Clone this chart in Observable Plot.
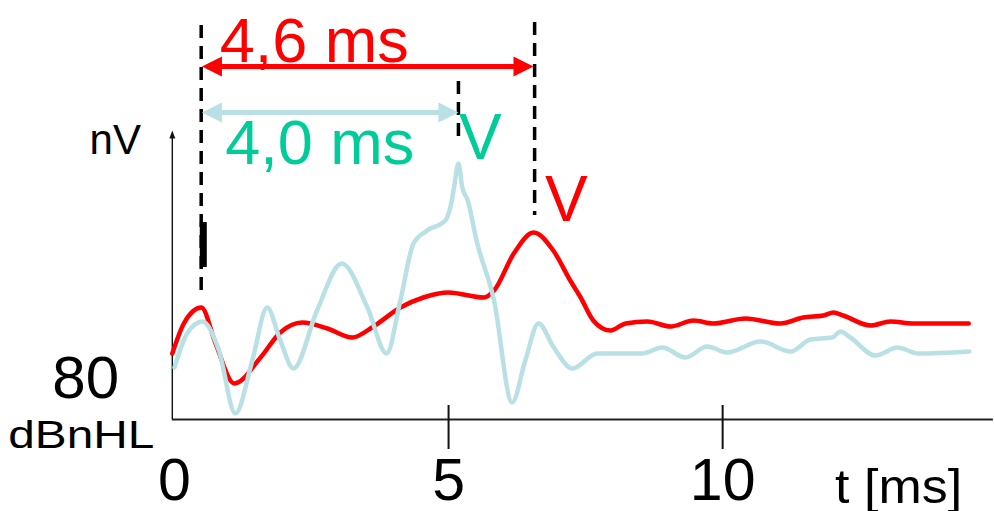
<!DOCTYPE html>
<html><head><meta charset="utf-8">
<script src="https://cdn.jsdelivr.net/npm/d3@7"></script>
<script src="https://cdn.jsdelivr.net/npm/@observablehq/plot@0.6"></script>
<style>html,body{margin:0;padding:0;background:#fff;overflow:hidden}</style>
</head><body><div id="chart"></div>
<script>
// ABR waveforms at 80 dBnHL (time in ms, amplitude in arbitrary nV units)
const redTime = [-0.04,0.17,0.49,0.75,1.09,1.57,1.93,2.33,2.79,3.24,3.63,4.12,4.54,5.00,5.64,5.83,6.19,6.55,6.91,7.22,7.41,7.64,7.95,8.23,8.63,9.05,9.47,9.83,10.42,11.05,11.47,11.84,12.02,12.20,12.70,13.06,13.48,14.49];
const redNV   = [6.6,9.6,11.2,7.6,3.6,6.2,8.7,9.7,9.1,8.2,9.3,11.2,12.2,12.7,12.2,12.9,16.6,18.7,16.9,13.9,12.2,9.9,8.9,9.6,9.8,9.3,9.9,9.6,10.1,9.6,10.2,10.4,10.7,10.4,9.4,9.8,9.6,9.6];
const cyanTime = [0.00,0.23,0.51,0.81,1.11,1.42,1.69,1.93,2.17,2.60,3.05,3.52,3.87,4.12,4.36,4.61,4.94,5.04,5.10,5.18,5.25,5.35,5.51,5.83,6.16,6.40,6.64,6.92,7.26,7.71,8.53,8.90,9.32,9.72,10.08,10.69,11.24,11.60,12.00,12.15,12.33,12.79,13.19,13.57,14.50];
const cyanNV   = [5.2,8.6,9.8,6.9,0.6,5.9,11.2,7.9,5.1,10.9,15.6,11.2,6.6,11.9,17.6,18.9,19.9,21.4,23.2,25.6,23.2,21.9,17.9,11.9,1.7,5.9,9.6,7.2,5.1,6.6,6.6,7.2,6.2,7.3,6.7,7.8,6.8,8.0,8.2,8.8,8.2,6.4,7.2,6.6,6.8];

const xTickValues = [5, 10];
const xTickLabels = [0, 5, 10];

// latency markers (ms) and interval arrows
const onset = 0.50;           // wave I reference
const peakVCyan = 5.18;       // wave V, green/cyan trace
const peakVRed = 6.57;        // wave V, red trace
const intervals = [
  {label: "4,6 ms", from: onset, to: 6.55, y: 35.3, color: "#ff0000", labelX: 2.55, labelY: 35.8},
  {label: "4,0 ms", from: onset, to: peakVCyan, y: 30.7, color: "#b9e0e4", text: "#00cc99", labelX: 2.65, labelY: 25.6}
];
const dashes = [
  {x: 0.487, y1: 12.7, y2: 39.4},
  {x: peakVRed, y1: 20.4, y2: 39.7},
  {x: peakVCyan, y1: 27.7, y2: 33.8}
];
const peakLabels = [
  {text: "V", x: 5.58, y: 26.1, color: "#00cc99"},
  {text: "V", x: 7.15, y: 19.9, color: "#ff0000"}
];
const sideLabels = [
  {text: "nV", x: -1.08, y: 26.6, size: 42},
  {text: "80", x: -1.62, y: 2.2, size: 60},
  {text: "dBnHL", x: -1.70, y: -2.8, size: 39},
  {text: "t [ms]", x: 13.21, y: -8.3, size: 48}
];

const red = redTime.map((t, i) => ({t, v: redNV[i]}));
const cyan = cyanTime.map((t, i) => ({t, v: cyanNV[i]}));

function head(dir, L, H) {
  return {draw(ctx) {
    ctx.moveTo(0, 0);
    if (dir === "left") { ctx.lineTo(L, -H); ctx.lineTo(L, H); }
    else if (dir === "right") { ctx.lineTo(-L, -H); ctx.lineTo(-L, H); }
    else { ctx.lineTo(-H, L); ctx.lineTo(H, L); }
    ctx.closePath();
  }};
}

const font = "'Liberation Sans', Arial, Helvetica, sans-serif";
const marks = [
  // axes
  Plot.ruleY([0], {x1: -0.04, x2: 14.94, stroke: "#222", strokeWidth: 2}),
  Plot.ruleX([-0.04], {y1: 0, y2: 28.2, stroke: "#111", strokeWidth: 1.4}),
  Plot.dot([{x: -0.04, y: 28.9}], {x: "x", y: "y", r: 3, symbol: head("up", 8, 3), fill: "#111", stroke: "none"}),
  Plot.ruleX(xTickValues, {y1: -3.0, y2: 1.4, stroke: "#111", strokeWidth: 2}),
  Plot.text(xTickLabels, {x: d => d, y: 0, dy: 80, text: d => String(d), fontSize: 59, lineAnchor: "bottom", fill: "#000", fontFamily: font}),
  // dashed latency markers
  Plot.ruleX(dashes, {x: "x", y1: "y2", y2: "y1", stroke: "#000", strokeWidth: 3.5, strokeDasharray: "13,8"}),
  Plot.ruleX([{x: 0.525, y1: 15.2, y2: 19.7}], {x: "x", y1: "y1", y2: "y2", stroke: "#000", strokeWidth: 7}),
  // waveforms
  Plot.line(red, {x: "t", y: "v", stroke: "#ff0000", strokeWidth: 4.5, curve: "monotone-x"}),
  Plot.line(cyan, {x: "t", y: "v", stroke: "#b9e0e4", strokeWidth: 4.5, curve: "monotone-x"}),
  // interval arrows
  Plot.ruleY(intervals, {y: "y", x1: "from", x2: "to", stroke: "color", strokeWidth: 5, insetLeft: 12, insetRight: 12}),
  Plot.dot(intervals, {x: "from", y: "y", r: 5, symbol: head("left", 20, 10), fill: "color", stroke: "none"}),
  Plot.dot(intervals, {x: "to", y: "y", r: 5, symbol: head("right", 20, 10), fill: "color", stroke: "none"}),
  Plot.text(intervals, {x: "labelX", y: "labelY", text: "label", fill: d => d.text || d.color, fontSize: 63, lineAnchor: "bottom", fontFamily: font}),
  Plot.text(peakLabels, {x: "x", y: "y", text: "text", fill: "color", fontSize: 64, lineAnchor: "bottom", fontFamily: font}),
  Plot.text(sideLabels, {x: "x", y: "y", text: "text", fontSize: "size", lineAnchor: "bottom", fill: "#000", fontFamily: font})
];

const chart = Plot.plot({
  width: 994, height: 511,
  marginLeft: 174, marginRight: 0, marginTop: 19, marginBottom: 92,
  x: {domain: [0, 14.96], axis: null},
  y: {domain: [0, 40], axis: null},
  color: {type: "identity"},
  style: {fontFamily: font, background: "#fff", overflow: "visible"},
  marks
});
document.getElementById("chart").appendChild(chart);

// stretch a few labels to match the original's widths
const widths = {"dBnHL": 146, "t [ms]": 127};
chart.querySelectorAll("text").forEach(t => {
  const w = widths[t.textContent];
  if (w) { t.setAttribute("textLength", w); t.setAttribute("lengthAdjust", "spacingAndGlyphs"); }
});
</script>
</body></html>
